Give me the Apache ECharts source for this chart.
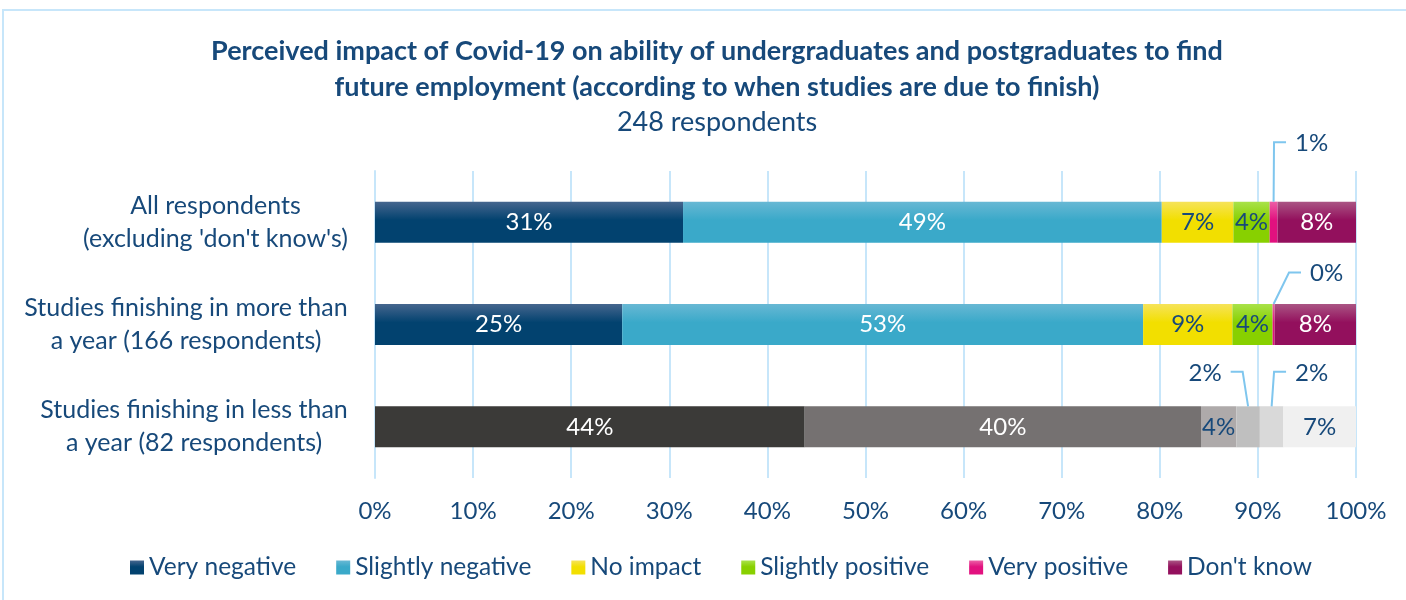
<!DOCTYPE html>
<html><head><meta charset="utf-8">
<script src="https://cdn.jsdelivr.net/npm/echarts@6/dist/echarts.min.js"></script>
<style>html,body{margin:0;padding:0;background:#fff}#c{width:1406px;height:600px}</style>
</head><body><div id="c"></div>
<script>
var categories = [
  ["All respondents", "(excluding 'don't know's)"],
  ["Studies finishing in more than", "a year (166 respondents)"],
  ["Studies finishing in less than", "a year (82 respondents)"]
];
var seriesNames = ["Very negative", "Slightly negative", "No impact", "Slightly positive", "Very positive", "Don't know"];
var veryNegative     = [31.4, 25.2, 43.8];
var slightlyNegative = [48.8, 53.1, 40.4];
var noImpact         = [7.3, 9.1, 3.6];
var slightlyPositive = [3.7, 4.1, 2.4];
var veryPositive     = [0.8, 0.2, 2.4];
var dontKnow         = [8.0, 8.3, 7.4];
var xTicks = [0, 10, 20, 30, 40, 50, 60, 70, 80, 90, 100];

var FONT = 'Lato';
var DARK = '#17497a';
var LINE = '#7fc6ee';
var BAR_W = 41;
var LABEL_SIZE = 24;
function grad(a, b) {
  return new echarts.graphic.LinearGradient(0, 0, 0, 1, [{offset: 0, color: a}, {offset: 0.45, color: b}, {offset: 1, color: b}]);
}
var seriesColors = [
  grad('#46668e', '#02426f'),
  grad('#68b8d4', '#3aa9c9'),
  grad('#f6e35a', '#f2df00'),
  grad('#a9e24a', '#88d000'),
  grad('#ec5fa6', '#e2117f'),
  grad('#aa5584', '#93105d')
];
var greyColors = ['#3b3a38', '#757171', '#aeaaaa', '#bfbfbf', '#d9d9d9', '#f0f0f0'];
var labelColors = ['#ffffff', '#ffffff', DARK, DARK, DARK, '#ffffff'];
var greyLabelColors = ['#ffffff', '#ffffff', DARK, DARK, DARK, DARK];
var allData = [veryNegative, slightlyNegative, noImpact, slightlyPositive, veryPositive, dontKnow];
// label offsets (from segment centre) for thin segments moved outside with a leader line
var outsideOffsets = {
  '4-0': [38, -79],
  '4-1': [53, -51],
  '3-2': [-43, -54],
  '4-2': [40, -54]
};
function fmt(v) { return Math.round(v) + '%'; }

var cv = document.createElement('canvas').getContext('2d');
cv.font = '25px ' + FONT;
var rich = {};
categories.forEach(function (lines, i) {
  var w = 0;
  lines.forEach(function (l) { w = Math.max(w, cv.measureText(l).width); });
  rich['r' + i] = {width: Math.ceil(w) + 2, align: 'center', fontSize: 25, fontFamily: FONT, color: DARK, lineHeight: 33};
});

var series = seriesNames.map(function (name, s) {
  return {
    name: name,
    type: 'bar',
    stack: 'total',
    barWidth: BAR_W,
    itemStyle: {color: seriesColors[s]},
    label: {
      show: true,
      position: 'inside',
      fontFamily: FONT,
      fontSize: LABEL_SIZE,
      formatter: function (p) { return fmt(p.value); }
    },
    labelLayout: function (p) {
      var o = outsideOffsets[p.seriesIndex + '-' + p.dataIndex];
      if (o) return {dx: o[0], dy: o[1]};
      return {};
    },
    data: allData[s].map(function (v, i) {
      var d = {value: v, label: {color: i === 2 ? greyLabelColors[s] : labelColors[s]}};
      if (i === 2) d.itemStyle = {color: greyColors[s]};
      if (outsideOffsets[s + '-' + i]) d.label.color = DARK;
      return d;
    })
  };
});

var chart = echarts.init(document.getElementById('c'), null, {renderer: 'canvas'});
var option = {
  animation: false,
  backgroundColor: '#ffffff',
  title: {
    text: 'Perceived impact of Covid-19 on ability of undergraduates and postgraduates to find\nfuture employment (according to when studies are due to finish)',
    subtext: '248 respondents',
    left: 712, top: 28, textAlign: 'center', itemGap: 0,
    textStyle: {fontFamily: FONT, fontSize: 27, fontWeight: 'bold', color: DARK, lineHeight: 36},
    subtextStyle: {fontFamily: FONT, fontSize: 27, color: DARK, lineHeight: 34}
  },
  legend: {
    left: 125, top: 550, itemWidth: 14, itemHeight: 14, itemGap: 40,
    icon: 'rect',
    textStyle: {fontFamily: FONT, fontSize: 24.5, color: DARK},
    data: seriesNames
  },
  grid: {left: 375, right: 50, top: 171, bottom: 122, containLabel: false},
  xAxis: {
    type: 'value', min: 0, max: 100, interval: 10,
    axisLine: {show: false}, axisTick: {show: false},
    splitLine: {show: true, lineStyle: {color: '#c7e6fa', width: 2}},
    axisLabel: {
      fontFamily: FONT, fontSize: 24, color: DARK, margin: 21,
      formatter: function (v) { return xTicks.indexOf(v) >= 0 ? v + '%' : ''; }
    }
  },
  yAxis: {
    type: 'category', inverse: true,
    data: categories.map(function (c) { return c.join('\n'); }),
    axisLine: {show: true, lineStyle: {color: '#c7e6fa', width: 2}},
    axisTick: {show: false},
    axisLabel: {
      margin: 26,
      formatter: function (v, i) {
        return categories[i].map(function (l) { return '{r' + i + '|' + l + '}'; }).join('\n');
      },
      rich: rich
    }
  },
  series: series
};
chart.setOption(option);

// leader lines for the outside labels, positioned through the chart's own scales
var graphics = [{
  type: 'rect', shape: {x: 3, y: 10, width: 1430, height: 620},
  style: {fill: 'none', stroke: '#c7e6fa', lineWidth: 2}, silent: true, z: -1
}];
cv.font = LABEL_SIZE + 'px ' + FONT;
Object.keys(outsideOffsets).forEach(function (key) {
  var parts = key.split('-');
  var s = +parts[0], i = +parts[1];
  var start = 0;
  for (var k = 0; k < s; k++) start += allData[k][i];
  var mid = start + allData[s][i] / 2;
  var segX = chart.convertToPixel({xAxisIndex: 0}, mid);
  var rowY = chart.convertToPixel({yAxisIndex: 0}, i);
  var barTop = rowY - BAR_W / 2;
  var o = outsideOffsets[key];
  var lx = segX + o[0], ly = rowY + o[1] - 1;
  var half = cv.measureText(fmt(allData[s][i])).width / 2;
  var side = o[0] >= 0 ? -1 : 1;
  var hEnd = lx + side * (half + 9);
  var hStart = hEnd + side * 12;
  graphics.push({
    type: 'polyline', silent: true, z: 10,
    shape: {points: [[segX, barTop], [hStart, ly], [hEnd, ly]]},
    style: {stroke: LINE, lineWidth: 2, fill: null}
  });
});
chart.setOption({graphic: graphics});
</script></body></html>
